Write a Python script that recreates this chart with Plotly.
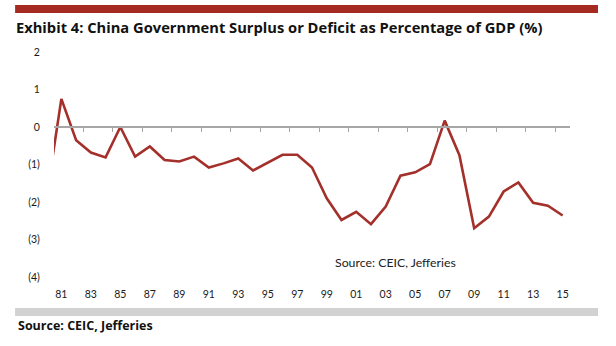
import plotly.graph_objects as go

# Data (fiscal balance, % of GDP); 1980 point lies left of the visible axis start
years = list(range(1980, 2016))
balance = [-1.85, 0.75, -0.35, -0.68, -0.81, 0.0, -0.79, -0.52, -0.88, -0.92,
           -0.79, -1.08, -0.97, -0.84, -1.16, -0.95, -0.74, -0.74, -1.08, -1.90,
           -2.48, -2.26, -2.59, -2.12, -1.30, -1.21, -0.99, 0.17, -0.75, -2.70,
           -2.39, -1.72, -1.48, -2.02, -2.10, -2.36]

label_years = list(range(1981, 2016, 2))
label_text = [str(y)[-2:] for y in label_years]
boundary_ticks = [y + 0.5 for y in range(1982, 2015, 2)]
y_ticks = [-4, -3, -2, -1, 0, 1, 2]
y_text = ["(4)", "(3)", "(2)", "(1)", "0", "1", "2"]

title = "Exhibit 4: China Government Surplus or Deficit as Percentage of GDP (%)"
source = "Source: CEIC, Jefferies"

RED = "#A3302A"
FONT = "Lato"
BOLD_FONT = "Open Sans"

fig = go.Figure()
fig.add_trace(go.Scatter(x=years, y=balance, mode="lines",
                         line=dict(color=RED, width=2.6),
                         showlegend=False, hoverinfo="skip"))
# helper trace so the zero-line axis is drawn
fig.add_trace(go.Scatter(x=[years[1]], y=[None], xaxis="x2", mode="lines",
                         showlegend=False, hoverinfo="skip"))

W, H = 616, 346
L, R, T, B = 53.9, 46, 52, 69
pw, ph = W - L - R, H - T - B

def px(x):
    return (x - L) / pw

def py(y):
    return (H - B - y) / ph

fig.update_layout(
    width=W, height=H,
    margin=dict(l=L, r=R, t=T, b=B),
    paper_bgcolor="white", plot_bgcolor="white",
    font=dict(family=FONT, color="#222222"),
    title=dict(text="<b>" + title + "</b>", xref="container", yref="container",
               x=16 / W, y=1 - 28 / H, xanchor="left", yanchor="middle",
               font=dict(family=BOLD_FONT, size=14.7, color="#111111")),
    xaxis=dict(range=[1980.5, 2015.5], showgrid=False, zeroline=False,
               showline=False, tickmode="array", tickvals=label_years,
               ticktext=label_text, ticks="outside", ticklen=7,
               tickcolor="rgba(0,0,0,0)", tickfont=dict(size=10.5, color="#1a1a1a")),
    xaxis2=dict(range=[1980.5, 2015.5], overlaying="x", anchor="free",
                position=4 / 6, showgrid=False, zeroline=False,
                showline=True, linecolor="#A6A6A6", linewidth=1.5,
                tickmode="array", tickvals=boundary_ticks, ticks="outside",
                ticklen=4, tickwidth=1, tickcolor="#A6A6A6",
                showticklabels=False),
    yaxis=dict(range=[-4, 2], showgrid=False, zeroline=False, showline=False,
               tickmode="array", tickvals=y_ticks, ticktext=y_text,
               ticks="outside", ticklen=11, tickcolor="rgba(0,0,0,0)",
               tickfont=dict(size=10.5, color="#1a1a1a")),
    shapes=[
        dict(type="rect", xref="paper", yref="paper",
             x0=px(15), x1=px(598), y0=py(13), y1=py(5),
             fillcolor="#A52A22", line=dict(width=0), layer="above"),
        dict(type="rect", xref="paper", yref="paper",
             x0=px(15), x1=px(598), y0=py(316), y1=py(308),
             fillcolor="#D2D2D2", line=dict(width=0), layer="above"),
    ],
    annotations=[
        dict(text=source, xref="paper", yref="paper", x=px(333), y=py(262),
             xanchor="left", yanchor="middle", showarrow=False,
             font=dict(family=FONT, size=12.3, color="#222222")),
        dict(text="<b>" + source + "</b>", xref="paper", yref="paper",
             x=px(16), y=py(325), xanchor="left", yanchor="middle",
             showarrow=False, font=dict(family=BOLD_FONT, size=12.5, color="#111111")),
    ],
)

fig.write_html("out.html")
